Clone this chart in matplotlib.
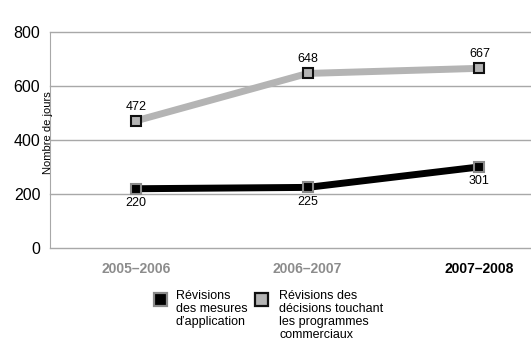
import numpy as np
import matplotlib.pyplot as plt
from matplotlib.patches import Rectangle

plt.rcParams['font.family'] = ['Liberation Sans', 'DejaVu Sans']

years = ['2005–2006', '2006–2007', '2007–2008']
mesures = [220, 225, 301]
commerciaux = [472, 648, 667]
year_colors = ['#8c8c8c', '#8c8c8c', '#000000']
labels = ['Révisions\ndes mesures\nd\u2019application',
          'Révisions des\ndécisions touchant\nles programmes\ncommerciaux']

W, H = 531, 361
fig = plt.figure(figsize=(W / 100, H / 100), dpi=100)
ax = fig.add_axes([50 / W, 1 - 248 / H, 1 - 50 / W, (248 - 32.5) / H])

x = np.arange(len(years))
light = '#b4b4b4'

ax.plot(x, commerciaux, color=light, lw=5, solid_capstyle='butt', zorder=3)
ax.plot(x, commerciaux, ls='none', marker='s', ms=7, mfc=light, mec='#111111', mew=1.5, zorder=4)
ax.plot(x, mesures, color='black', lw=5, solid_capstyle='butt', zorder=3)
ax.plot(x, mesures, ls='none', marker='s', ms=7, mfc='black', mec='#8a8a8a', mew=1.5, zorder=4)

for xi, v in zip(x, commerciaux):
    ax.annotate(str(v), (xi, v), xytext=(0, 6), textcoords='offset points',
                ha='center', va='bottom', fontsize=9)
for xi, v in zip(x, mesures):
    ax.annotate(str(v), (xi, v), xytext=(0, -6), textcoords='offset points',
                ha='center', va='top', fontsize=9)

ax.set_xlim(-0.5, 2.3)
ax.set_ylim(0, 800)
ax.set_yticks([0, 200, 400, 600, 800])
ax.grid(axis='y', color='#a8a8a8', lw=1)
for gl in ax.get_ygridlines():
    gl.set_clip_on(False)
ax.set_axisbelow(True)
for s in ['top', 'right', 'bottom']:
    ax.spines[s].set_visible(False)
ax.spines['left'].set_color('#a8a8a8')
ax.tick_params(length=0, labelsize=11.5, pad=7)
ax.set_xticks(x)
ax.set_xticklabels(years, fontweight='bold', fontsize=10)
for t, c in zip(ax.get_xticklabels(), year_colors):
    t.set_color(c)
ax.tick_params(axis='x', pad=10)

fig.text(48 / W, 1 - 133 / H, 'Nombre de jours', rotation=90, fontsize=8,
         ha='center', va='center')

# legend
for (lx, face, edge), lab, tx in zip([(154, 'black', '#8a8a8a'), (255, light, '#111111')],
                                     labels, [176, 279]):
    fig.patches.append(Rectangle((lx / W, 1 - 306 / H), 13 / W, 13 / H, facecolor=face,
                                 edgecolor=edge, lw=1.6, transform=fig.transFigure))
    fig.text(tx / W, 1 - 290 / H, lab, fontsize=9, va='top', ha='left', linespacing=1.1)

fig.savefig('out.png', dpi=100)
